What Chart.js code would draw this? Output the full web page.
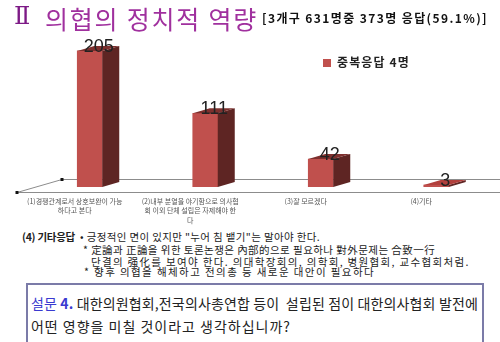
<!DOCTYPE html>
<html>
<head>
<meta charset="utf-8">
<script src="https://cdn.jsdelivr.net/npm/chart.js@4"></script>
<style>
  html, body { margin:0; padding:0; background:#fff; }
  body { width:500px; height:342px; position:relative; overflow:hidden; font-family:"Noto Sans CJK KR","Noto Sans",sans-serif; color:#222; }
  #chart { position:absolute; left:0; top:0; }
  .abs { position:absolute; white-space:nowrap; }
  .roman { left:14px; top:2px; font-family:"DejaVu Serif",serif; font-size:24px; color:#7d1a86; }
  .title { left:45px; top:0px; font-size:25px; color:#a0309e; }
  .sub { left:262px; top:9px; font-size:12px; font-weight:bold; color:#111; }
  .legend { left:323px; top:53px; font-size:12px; font-weight:bold; color:#222; }
  .legend i { display:inline-block; width:8px; height:8px; background:#c0504d; margin-right:6px; }
  .note { font-size:10.5px; color:#222; line-height:12px; }
  .box { position:absolute; left:26px; top:283px; width:454px; height:80px; border:2px solid #7b7ba8; background:#fff; }
  .q { position:absolute; left:3px; font-size:14px; color:#222; white-space:nowrap; }
  .q b { color:#3a3ad0; font-weight:normal; }
</style>
</head>
<body>
<canvas id="chart" width="500" height="227"></canvas>

<div class="abs roman">Ⅱ</div>
<div class="abs title" data-w="213">의협의 정치적 역량</div>
<div class="abs sub" data-w="226">[3개구 631명중 373명 응답(59.1%)]</div>
<div class="abs legend"><i></i><span data-w="73">중복응답 4명</span></div>

<div class="abs note" data-w="53" style="left:22px;top:231px;font-weight:bold;">(4) 기타응답</div>
<div class="abs note" data-w="240" style="left:80px;top:231px;">• 긍정적인 면이 있지만 "누어 침 뱉기"는 말아야 한다.</div>
<div class="abs note" data-w="352" style="left:83px;top:244px;">* 定論과 正論을 위한 토론논쟁은 內部的으로 필요하나 對外문제는 合致一行</div>
<div class="abs note" data-w="379" style="left:91px;top:256px;">단결의 强化를 보여야 한다. 의대학장회의, 의학회, 병원협회, 교수협회처럼.</div>
<div class="abs note" data-w="291" style="left:84px;top:266px;">* 향후 의협을 해체하고 전의총 등 새로운 대안이 필요하다</div>

<div class="box">
  <div class="q" data-w="447" style="top:8px;"><b>설문 <span style="font-weight:bold">4.</span></b> 대한의원협회,전국의사총연합 등이 &nbsp;설립된 점이 대한의사협회 발전에</div>
  <div class="q" data-w="260" style="top:31px;">어떤 영향을 미칠 것이라고 생각하십니까?</div>
</div>

<script>
// categories (x axis, wrapped like the original)
const CATEGORIES = [
  ["(1)경쟁관계로서 상호보완이 가능", "하다고 본다"],
  ["(2)내부 분열을 야기함으로 의사협", "회 이외 단체 설립은 자제해야 한", "다"],
  ["(3)잘 모르겠다"],
  ["(4)기타"]
];
const COUNTS = [205, 111, 42, 3];
const SERIES_NAME = "중복응답 4명";
const Y_MAX = 250;

const FRONT = "#c0504d", SIDE = "#5e2523", TOP = "#7e302e";
const DX = 17, DY = 5;
const X_AXIS_H = 40;

// stretch text lines to the widths they have in the original slide
document.querySelectorAll("[data-w]").forEach(el => {
  const w = el.getBoundingClientRect().width;
  const n = el.textContent.length;
  el.style.letterSpacing = ((+el.dataset.w - w) / n).toFixed(2) + "px";
});

// floor of the 3d plot, drawn behind the bars
const floor = {
  id: "floor",
  beforeDatasetsDraw(chart) {
    const { ctx, chartArea, scales } = chart;
    const base = scales.y.getPixelForValue(0);
    const fy = Math.round(base + 5) + 0.5, by = Math.round(base - 8) + 0.5;
    const fx = Math.round(chartArea.left - 15), bx = Math.round(chartArea.left + 30);
    ctx.save();
    ctx.strokeStyle = "#8c8c8c";
    ctx.lineWidth = 1;
    ctx.beginPath();
    ctx.moveTo(bx, by); ctx.lineTo(chart.width, by);
    ctx.moveTo(fx, fy); ctx.lineTo(chart.width, fy);
    ctx.moveTo(fx, fy); ctx.lineTo(bx, by);
    ctx.stroke();
    ctx.fillStyle = "#111";
    ctx.fillRect(fx - 1.5, fy - 1.5, 3, 3);
    ctx.fillRect(bx - 1.5, by - 1.5, 3, 3);
    ctx.restore();
  }
};

// side + top faces and the value over each bar
const bars3d = {
  id: "bars3d",
  afterDatasetsDraw(chart) {
    const { ctx } = chart;
    const meta = chart.getDatasetMeta(0);
    ctx.save();
    meta.data.forEach((bar, i) => {
      const l = bar.x - bar.width / 2, r = bar.x + bar.width / 2;
      const t = bar.y, b = bar.base;
      ctx.fillStyle = SIDE;
      ctx.beginPath();
      ctx.moveTo(r, t); ctx.lineTo(r + DX, t - DY); ctx.lineTo(r + DX, b - DY); ctx.lineTo(r, b);
      ctx.closePath(); ctx.fill();
      ctx.fillStyle = COUNTS[i] < 10 ? "#b2403d" : TOP;
      ctx.beginPath();
      ctx.moveTo(l, t); ctx.lineTo(l + DX, t - DY); ctx.lineTo(r + DX, t - DY); ctx.lineTo(r, t);
      ctx.closePath(); ctx.fill();

      ctx.fillStyle = "#222";
      ctx.font = "18px 'Liberation Sans', sans-serif";
      ctx.textAlign = "center";
      ctx.textBaseline = "middle";
      ctx.fillText(String(COUNTS[i]), bar.x + 9, t - 4);
    });
    ctx.restore();
  }
};

new Chart(document.getElementById("chart"), {
  type: "bar",
  data: {
    labels: CATEGORIES,
    datasets: [{ label: SERIES_NAME, data: COUNTS, backgroundColor: FRONT, barThickness: 25 }]
  },
  options: {
    responsive: false,
    animation: false,
    devicePixelRatio: 1,
    layout: { padding: { left: 32, right: 6, top: 21, bottom: 0 } },
    plugins: { legend: { display: false }, tooltip: { enabled: false } },
    scales: {
      y: { display: false, min: 0, max: Y_MAX },
      x: {
        afterFit(scale) { scale.height = X_AXIS_H; },
        grid: { display: false, drawTicks: false }, border: { display: false },
        ticks: { color: "#555", font: { size: 7, family: "'Noto Sans CJK KR'", lineHeight: 1.4 }, padding: 9, labelOffset: -15, maxRotation: 0, autoSkip: false }
      }
    }
  },
  plugins: [floor, bars3d]
});
</script>
</body>
</html>
